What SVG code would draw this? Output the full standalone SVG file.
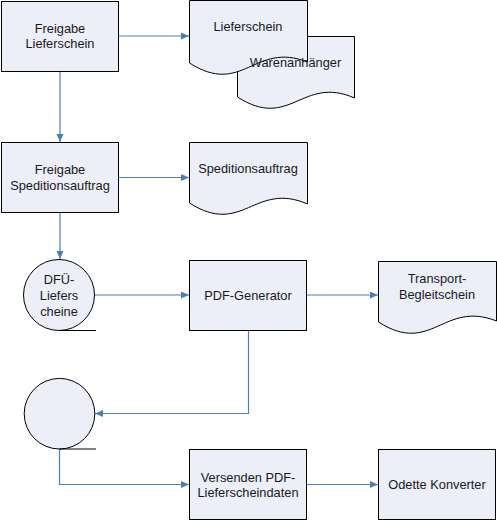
<svg xmlns="http://www.w3.org/2000/svg" width="497" height="521" viewBox="0 0 497 521">
<defs>
<style>
.s{fill:#ECEEF8;stroke:#000;stroke-width:1}
.t{font-family:"Liberation Sans",Arial,sans-serif;font-size:12.8px;fill:#1a1a1a;text-anchor:middle}
.c{fill:none;stroke:#4A7EBB;stroke-width:1.2;marker-end:url(#a)}
.l{fill:none;stroke:#000;stroke-width:1}
</style>
<marker id="a" markerUnits="userSpaceOnUse" markerWidth="9" markerHeight="8" refX="8" refY="3.5" orient="auto">
<path d="M0,0 L8,3.5 L0,7 Z" fill="#4A7EBB"/>
</marker>
</defs>
<rect width="497" height="521" fill="#fff"/>
<g id="connectors">
<path class="c" d="M119,36 H189"/>
<path class="c" d="M60,71.5 V142"/>
<path class="c" d="M119,177.5 H189"/>
<path class="c" d="M60,212.5 V259"/>
<path class="c" d="M95,295 H189"/>
<path class="c" d="M307,295 H378"/>
<path class="c" d="M248.5,330.5 V413.5 H95"/>
<path class="c" d="M59.5,449 V484.5 H189"/>
<path class="c" d="M307,484.5 H378"/>
</g>
<g id="freigabe-lieferschein">
<rect class="s" x="1.5" y="1.5" width="117" height="70"/>
<text class="t" x="60" y="32.8">Freigabe</text>
<text class="t" x="60" y="47.8">Lieferschein</text>
</g>
<g id="warenanhaenger">
<path class="s" d="M237.5,97 V36.5 H354.5 V98 C301.9,75 290.2,131 237.5,97 Z"/>
</g>
<g id="lieferschein">
<path class="s" d="M189.5,63 V0.5 H307.5 V62 C254.4,41 242.6,97 189.5,63 Z"/>
<text class="t" x="248" y="31.2">Lieferschein</text>
</g>
<g id="warenanhaenger-label">
<text class="t" x="295.5" y="67.2">Warenanhänger</text>
</g>
<g id="freigabe-speditionsauftrag">
<rect class="s" x="1.5" y="142.5" width="117" height="70"/>
<text class="t" x="60" y="173.8">Freigabe</text>
<text class="t" x="60" y="189.5">Speditionsauftrag</text>
</g>
<g id="speditionsauftrag">
<path class="s" d="M189.5,203 V142.5 H307.5 V204 C254.4,181 242.6,237 189.5,203 Z"/>
<text class="t" x="248" y="172.8">Speditionsauftrag</text>
</g>
<g id="dfue-lieferscheine">
<circle class="s" cx="59" cy="295" r="35.5"/>
<path class="l" d="M59,330.5 H96"/>
<text class="t" x="59" y="283.5">DFÜ-</text>
<text class="t" x="59" y="300.2">Liefers</text>
<text class="t" x="59" y="316.2">cheine</text>
</g>
<g id="pdf-generator">
<rect class="s" x="189.5" y="260.5" width="117" height="70"/>
<text class="t" x="248" y="300.2">PDF-Generator</text>
</g>
<g id="transport-begleitschein">
<path class="s" d="M378.5,322 V261.5 H496.5 V321 C443.4,300 431.6,356 378.5,322 Z"/>
<text class="t" x="437" y="282.5">Transport-</text>
<text class="t" x="437" y="298.5">Begleitschein</text>
</g>
<g id="speicher">
<circle class="s" cx="59.5" cy="413.7" r="35.3"/>
<path class="l" d="M59.5,449 H96"/>
</g>
<g id="versenden">
<rect class="s" x="189.5" y="449.5" width="117" height="70"/>
<text class="t" x="248" y="481.8">Versenden PDF-</text>
<text class="t" x="248" y="497.2">Lieferscheindaten</text>
</g>
<g id="odette">
<rect class="s" x="378.5" y="449.5" width="117" height="70"/>
<text class="t" x="437" y="488.8">Odette Konverter</text>
</g>
</svg>
